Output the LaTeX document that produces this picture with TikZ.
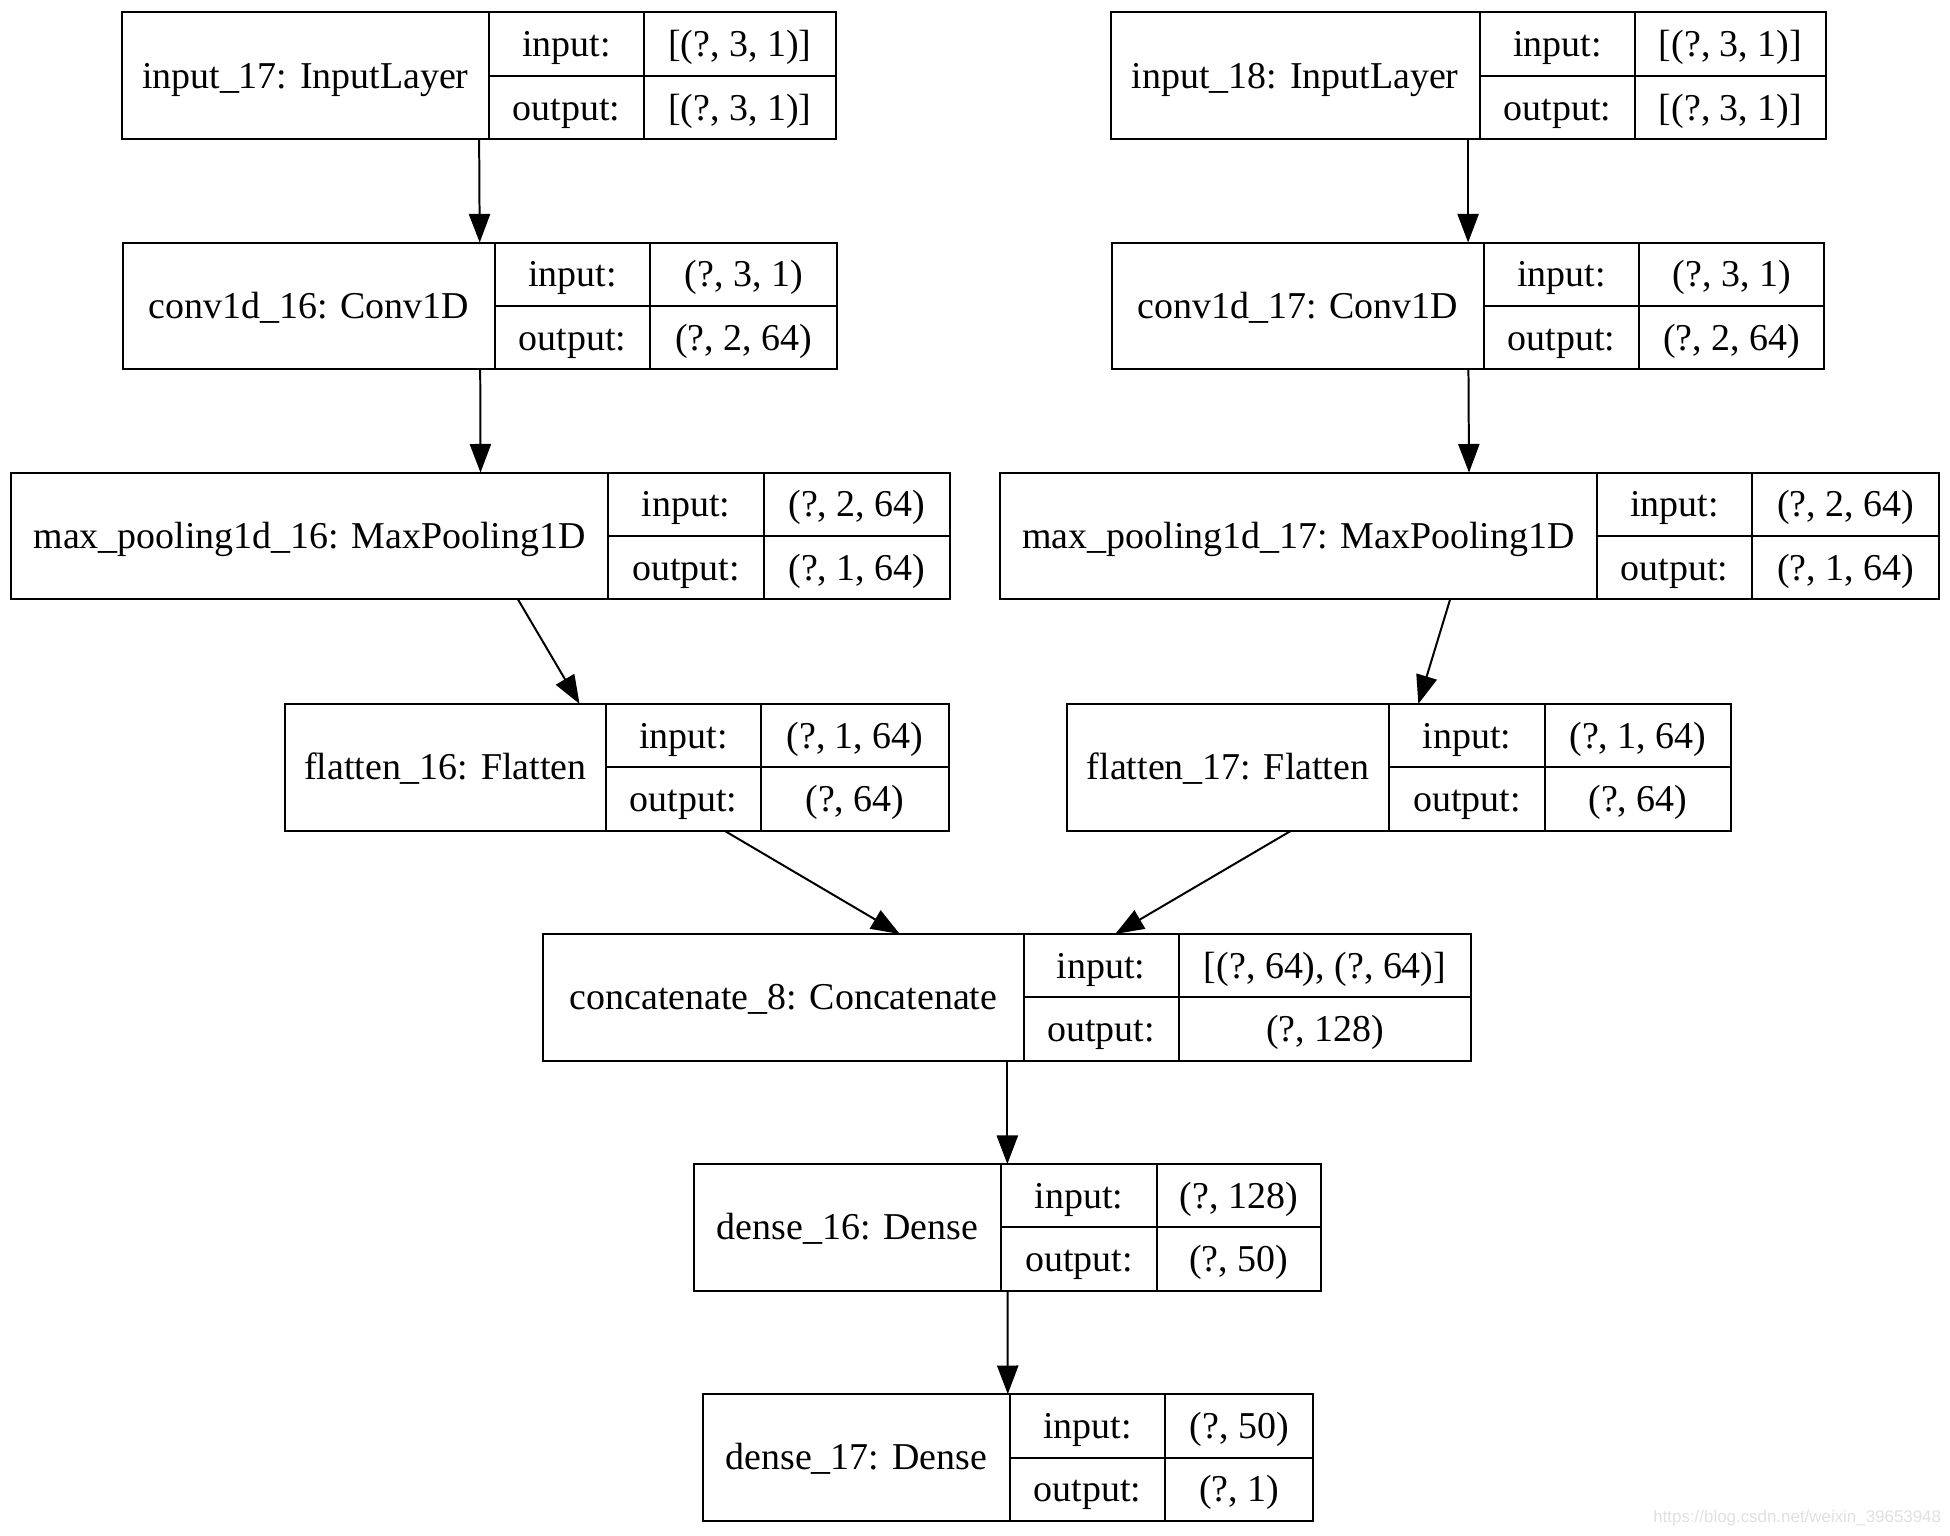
\documentclass[tikz,border=0pt]{standalone}
\usepackage{fontspec}
\setmainfont{Liberation Serif}
\newfontfamily\wmfont{Liberation Sans}
\usetikzlibrary{positioning,arrows.meta}
\tikzset{
	layer/.style={anchor=north west,inner sep=0pt,outer sep=0pt,minimum height=102},
	cell/.style={draw,line width=1.6pt,anchor=north west,inner sep=0pt,outer sep=0pt,
		minimum height=51,text height=24pt,text depth=4pt},
	namecell/.style={cell,minimum height=102},
	flow/.style={line width=1.6pt,-{Triangle[length=23pt,width=17pt]}}
}
% one keras layer: name, x, y, title width, value width, title, input, output
\newcommand{\layerbox}[8]{%
	\node[layer,minimum width=#4+125+#5] (#1) at (#2,#3) {};
	\node[namecell,minimum width=#4] (#1-name) at (#1.north west) {#6};
	\node[cell,minimum width=125] (#1-in) at (#1-name.north east) {input:};
	\node[cell,minimum width=125] (#1-out) at (#1-in.south west) {output:};
	\node[cell,minimum width=#5] (#1-inval) at (#1-in.north east) {#7};
	\node[cell,minimum width=#5] (#1-outval) at (#1-out.north east) {#8};
}

\begin{document}
\begin{tikzpicture}[x=1pt,y=-1pt,font=\fontsize{30.5}{36}\selectfont]
					\useasboundingbox (0,0) rectangle (1568,1235);
					%LEFT BRANCH
					\layerbox{inp17}{98}{10}{295}{154}{input\_17: InputLayer}{[(?, 3, 1)]}{[(?, 3, 1)]}
					\layerbox{conv16}{99}{195}{299}{150}{conv1d\_16: Conv1D}{(?, 3, 1)}{(?, 2, 64)}
					\layerbox{pool16}{9}{380}{480}{150}{max\_pooling1d\_16: MaxPooling1D}{(?, 2, 64)}{(?, 1, 64)}
					\layerbox{flat16}{229}{566}{258}{151}{flatten\_16: Flatten}{(?, 1, 64)}{(?, 64)}
					%RIGHT BRANCH
					\layerbox{inp18}{893}{10}{297}{153}{input\_18: InputLayer}{[(?, 3, 1)]}{[(?, 3, 1)]}
					\layerbox{conv17}{894}{195}{299}{149}{conv1d\_17: Conv1D}{(?, 3, 1)}{(?, 2, 64)}
					\layerbox{pool17}{804}{380}{480}{150}{max\_pooling1d\_17: MaxPooling1D}{(?, 2, 64)}{(?, 1, 64)}
					\layerbox{flat17}{858}{566}{259}{150}{flatten\_17: Flatten}{(?, 1, 64)}{(?, 64)}
					%MERGE AND HEAD
					\layerbox{concat8}{437}{751}{386}{235}{concatenate\_8: Concatenate}{[(?, 64), (?, 64)]}{(?, 128)}
					\layerbox{dense16}{558}{936}{247}{132}{dense\_16: Dense}{(?, 128)}{(?, 50)}
					\layerbox{dense17}{565}{1121}{247}{119}{dense\_17: Dense}{(?, 50)}{(?, 1)}
					%ARROWS
					\draw[flow] (inp17) -- (conv16);
					\draw[flow] (conv16) -- (pool16);
					\draw[flow] (pool16) -- (flat16);
					\draw[flow] (flat16) -- (concat8);
					\draw[flow] (inp18) -- (conv17);
					\draw[flow] (conv17) -- (pool17);
					\draw[flow] (pool17) -- (flat17);
					\draw[flow] (flat17) -- (concat8);
					\draw[flow] (concat8) -- (dense16);
					\draw[flow] (dense16) -- (dense17);
					\node[anchor=east,inner sep=0pt,text=black!12,font=\wmfont\fontsize{13.6}{16}\selectfont] (wm) at (1561,1221) {https://blog.csdn.net/weixin\_39653948};
\end{tikzpicture}
\end{document}
